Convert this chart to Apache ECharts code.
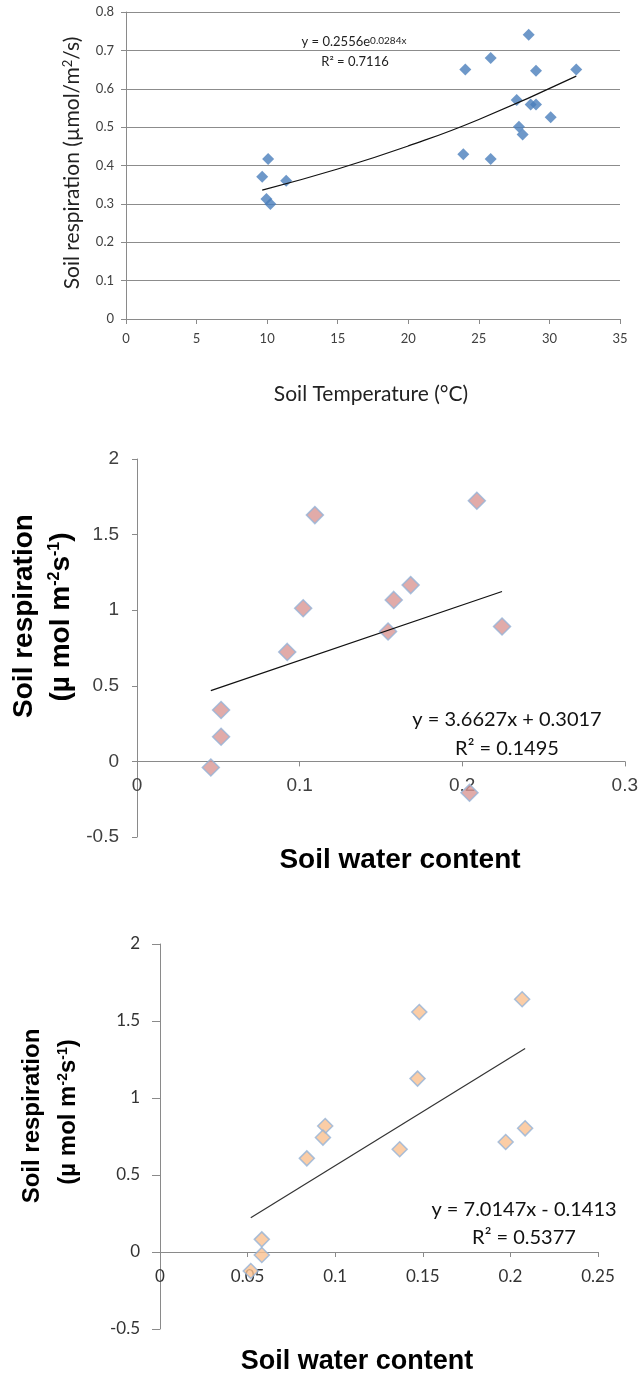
<!DOCTYPE html>
<html>
<head>
<meta charset="utf-8">
<script src="https://cdn.jsdelivr.net/npm/echarts@6/dist/echarts.min.js"></script>
<style>
html,body{margin:0;padding:0;background:#fff;}
#c{width:641px;height:1383px;}
</style>
</head>
<body>
<div id="c"></div>
<script>
// ---- Chart 1: soil temperature vs soil respiration ----
const tempX = [9.65, 10.07, 11.35, 9.95, 10.23, 23.9, 24.04, 25.84, 25.84, 27.68, 27.84, 28.1, 28.53, 28.67, 29.05, 29.05, 30.09, 31.9];
const tempY = [0.371, 0.417, 0.360, 0.313, 0.300, 0.429, 0.650, 0.680, 0.417, 0.571, 0.501, 0.481, 0.741, 0.559, 0.559, 0.647, 0.526, 0.650];
// exponential trend line (y = 0.2556e^0.0284x)
const trend1X = [9.65, 15, 20, 25, 31.9];
const trend1Y = [0.336, 0.391, 0.451, 0.520, 0.633];

// ---- Chart 2: soil water content vs soil respiration (pink) ----
const swcAX = [0.1094, 0.1022, 0.2090, 0.1683, 0.1579, 0.1544, 0.2245, 0.0924, 0.0517, 0.0517, 0.0454, 0.2045];
const swcAY = [1.629, 1.013, 1.724, 1.166, 1.068, 0.859, 0.892, 0.724, 0.340, 0.163, -0.040, -0.207];
const trendAX = [0.0454, 0.2245];
const trendAY = [0.468, 1.124];

// ---- Chart 3: soil water content vs soil respiration (orange) ----
const swcBX = [0.2067, 0.148, 0.147, 0.0943, 0.093, 0.2084, 0.1973, 0.1368, 0.0838, 0.0581, 0.0581, 0.0518];
const swcBY = [1.641, 1.558, 1.126, 0.818, 0.743, 0.803, 0.714, 0.667, 0.608, 0.082, -0.019, -0.123];
const trendBX = [0.0518, 0.2084];
const trendBY = [0.222, 1.321];

// ---- texts ----
const eq1a = 'y = 0.2556e';
const eq1sup = '0.0284x';
const eq1b = '0.7116';
const eqA1 = 'y = 3.6627x + 0.3017';
const eqA2 = '0.1495';
const eqB1 = 'y = 7.0147x - 0.1413';
const eqB2 = '0.5377';

const zip = (xs, ys) => xs.map((x, i) => [x, ys[i]]);

const chart = echarts.init(document.getElementById('c'), null, {renderer: 'canvas'});

const axisGray = '#8a8a8a';
const calib = 'Lato, "Open Sans", sans-serif';
const arial = '"Liberation Sans", Arial, sans-serif';

function valueAxis(o) {
  return Object.assign({
    type: 'value',
    axisLine: {show: true, onZero: true, lineStyle: {color: axisGray, width: 1}},
    axisTick: {show: true, length: 5, lineStyle: {color: axisGray}},
    splitLine: {show: false}
  }, o);
}

const option = {
  animation: false,
  backgroundColor: '#fff',
  grid: [
    {left: 126, top: 12, width: 494, height: 307},
    {left: 137, top: 459, width: 488, height: 378},
    {left: 160, top: 944, width: 438, height: 385}
  ],
  xAxis: [
    valueAxis({gridIndex: 0, min: 0, max: 35, interval: 5,
      axisLine: {show: true, onZero: false, lineStyle: {color: axisGray}},
      axisLabel: {margin: 13, fontSize: 13, color: '#404040', fontFamily: calib}}),
    valueAxis({gridIndex: 1, min: 0, max: 0.3, interval: 0.1,
      axisLabel: {margin: -61, fontSize: 19, color: '#404040', fontFamily: arial, hideOverlap: false}}),
    valueAxis({gridIndex: 2, min: 0, max: 0.25, interval: 0.05,
      axisLabel: {margin: -61, fontSize: 17, color: '#333', fontFamily: calib, hideOverlap: false}})
  ],
  yAxis: [
    valueAxis({gridIndex: 0, min: 0, max: 0.8, interval: 0.1,
      splitLine: {show: true, lineStyle: {color: '#8c8c8c', width: 1}},
      axisLabel: {margin: 12, fontSize: 13, color: '#404040', fontFamily: calib}}),
    valueAxis({gridIndex: 1, min: -0.5, max: 2, interval: 0.5,
      axisLabel: {margin: 18, fontSize: 19, color: '#404040', fontFamily: arial}}),
    valueAxis({gridIndex: 2, min: -0.5, max: 2, interval: 0.5,
      axisTick: {show: true, length: 8, lineStyle: {color: axisGray}},
      axisLabel: {margin: 20, fontSize: 17, color: '#333', fontFamily: calib}})
  ],
  series: [
    {type: 'scatter', xAxisIndex: 0, yAxisIndex: 0, symbol: 'diamond', symbolSize: 12,
      itemStyle: {color: '#4A7EBB'}, data: zip(tempX, tempY), z: 3},
    {type: 'line', xAxisIndex: 0, yAxisIndex: 0, smooth: true, showSymbol: false, silent: true,
      lineStyle: {color: '#111', width: 1.2}, data: zip(trend1X, trend1Y), z: 4},
    {type: 'scatter', xAxisIndex: 1, yAxisIndex: 1, symbol: 'diamond', symbolSize: 17,
      itemStyle: {color: '#D99694', borderColor: '#95B3D7', borderWidth: 1.5}, data: zip(swcAX, swcAY), z: 3},
    {type: 'line', xAxisIndex: 1, yAxisIndex: 1, showSymbol: false, silent: true,
      lineStyle: {color: '#111', width: 1.2}, data: zip(trendAX, trendAY), z: 4},
    {type: 'scatter', xAxisIndex: 2, yAxisIndex: 2, symbol: 'diamond', symbolSize: 15,
      itemStyle: {color: '#FAC090', borderColor: '#95B3D7', borderWidth: 1.5}, data: zip(swcBX, swcBY), z: 3},
    {type: 'line', xAxisIndex: 2, yAxisIndex: 2, showSymbol: false, silent: true,
      lineStyle: {color: '#333', width: 1.2}, data: zip(trendBX, trendBY), z: 4}
  ],
  graphic: [
    // chart 1 titles
    {type: 'text', x: 72, y: 163, rotation: Math.PI / 2,
      style: {text: 'Soil respiration (µmol/m{sup|2}/s)', fill: '#222', font: '21px ' + calib, align: 'center', verticalAlign: 'middle',
        rich: {sup: {fontSize: 13, fontFamily: 'Lato', verticalAlign: 'top', fill: '#222', lineHeight: 14}}}},
    {type: 'text', x: 371, y: 394,
      style: {text: 'Soil Temperature (°C)', fill: '#222', font: '21px ' + calib, align: 'center', verticalAlign: 'middle'}},
    // chart 1 equation
    {type: 'text', x: 354, y: 42,
      style: {text: eq1a + '{sup|' + eq1sup + '}', fill: '#222', font: '13px ' + calib, align: 'center', verticalAlign: 'middle',
        rich: {sup: {fontSize: 10, fontFamily: 'Lato', verticalAlign: 'top', fill: '#222', lineHeight: 10}}}},
    {type: 'text', x: 355, y: 62,
      style: {text: 'R² = ' + eq1b, fill: '#222', font: '13px ' + calib, align: 'center', verticalAlign: 'middle'}},
    // chart 2 titles
    {type: 'text', x: 24, y: 616, rotation: Math.PI / 2,
      style: {text: 'Soil respiration', fill: '#000', font: 'bold 28px ' + arial, align: 'center', verticalAlign: 'middle'}},
    {type: 'text', x: 61, y: 617, rotation: Math.PI / 2,
      style: {text: '(µ mol m{sup|-2}s{sup|-1})', fill: '#000', font: 'bold 28px ' + arial, align: 'center', verticalAlign: 'middle',
        rich: {sup: {fontSize: 16, fontWeight: 'bold', fontFamily: 'Liberation Sans', verticalAlign: 'top', fill: '#000', lineHeight: 16}}}},
    {type: 'text', x: 400, y: 860,
      style: {text: 'Soil water content', fill: '#000', font: 'bold 28px ' + arial, align: 'center', verticalAlign: 'middle'}},
    {type: 'text', x: 507, y: 720,
      style: {text: eqA1, fill: '#111', font: '20px ' + calib, align: 'center', verticalAlign: 'middle'}},
    {type: 'text', x: 507, y: 749,
      style: {text: 'R² = ' + eqA2, fill: '#111', font: '20px ' + calib, align: 'center', verticalAlign: 'middle'}},
    // chart 3 titles
    {type: 'text', x: 32, y: 1116, rotation: Math.PI / 2,
      style: {text: 'Soil respiration', fill: '#000', font: 'bold 24px ' + arial, align: 'center', verticalAlign: 'middle'}},
    {type: 'text', x: 68, y: 1112, rotation: Math.PI / 2,
      style: {text: '(µ mol m{sup|-2}s{sup|-1})', fill: '#000', font: 'bold 24px ' + arial, align: 'center', verticalAlign: 'middle',
        rich: {sup: {fontSize: 14, fontWeight: 'bold', fontFamily: 'Liberation Sans', verticalAlign: 'top', fill: '#000', lineHeight: 14}}}},
    {type: 'text', x: 357, y: 1362,
      style: {text: 'Soil water content', fill: '#000', font: 'bold 27px ' + arial, align: 'center', verticalAlign: 'middle'}},
    {type: 'text', x: 524, y: 1210,
      style: {text: eqB1, fill: '#111', font: '20px ' + calib, align: 'center', verticalAlign: 'middle'}},
    {type: 'text', x: 524, y: 1238,
      style: {text: 'R² = ' + eqB2, fill: '#111', font: '20px ' + calib, align: 'center', verticalAlign: 'middle'}}
  ]
};
chart.setOption(option);
</script>
</body>
</html>
